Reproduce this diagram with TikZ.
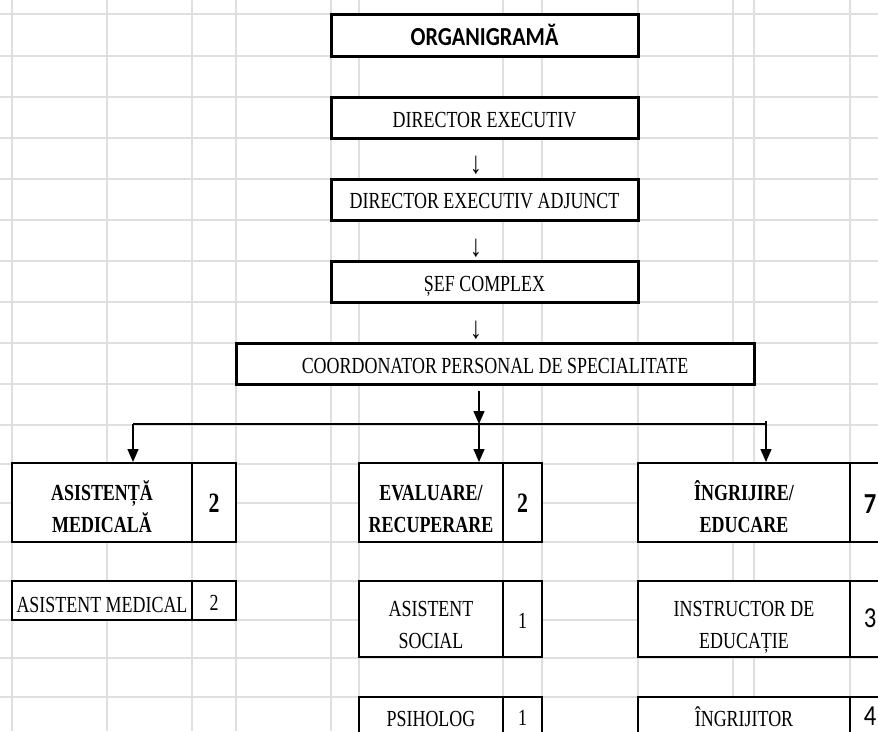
\documentclass[tikz,border=0pt]{standalone}
\usepackage{fontspec}
\newfontfamily\tnr{Liberation Serif}[FakeStretch=0.78]
\newfontfamily\calfnt{Carlito}[FakeStretch=0.85]
\usetikzlibrary{arrows.meta}
\tikzset{
  gridline/.style={line width=1.5pt, draw=gray!25},
  bigbox/.style={draw, rectangle, line width=3pt, fill=white, inner sep=0pt},
  cellbox/.style={draw, rectangle, line width=2pt, fill=white, inner sep=0pt},
  txt/.style={inner sep=0pt, anchor=base, font=\tnr\fontsize{23}{27}\selectfont},
  btxt/.style={inner sep=0pt, anchor=base, font=\tnr\bfseries\fontsize{23}{27}\selectfont},
  arrtxt/.style={inner sep=0pt, anchor=base, font=\tnr\fontsize{31}{33}\selectfont},
  bnum/.style={inner sep=0pt, anchor=base, font=\tnr\bfseries\fontsize{28}{30}\selectfont},
  num/.style={inner sep=0pt, anchor=base, font=\tnr\fontsize{23}{26}\selectfont},
  cnum/.style={inner sep=0pt, anchor=base, font=\calfnt\fontsize{29}{31}\selectfont},
  cbnum/.style={inner sep=0pt, anchor=base, font=\calfnt\bfseries\fontsize{29}{31}\selectfont},
  title/.style={inner sep=0pt, anchor=base, font=\calfnt\bfseries\fontsize{26}{30}\selectfont},
  conn/.style={line width=1.5pt, draw=black},
  arr/.style={line width=1.5pt, draw=black, -{Triangle[length=13pt,width=11pt]}},
}
\begin{document}
\begin{tikzpicture}[x=1pt,y=-1pt]
\useasboundingbox (0,0) rectangle (878,731);
\clip (0,0) rectangle (878,731);
\fill[white] (0,0) rectangle (878,731);
% spreadsheet grid
\foreach \gx in {12,107,192,236,331,359,503,542,638,733,754,850}
  \draw[gridline] (\gx,0) -- (\gx,731);
\foreach \gy in {14,56,97,138,179,220,261,302,343,384,425,464,503,542,581,620,658,697}
  \draw[gridline] (0,\gy) -- (878,\gy);

% top chain
\node[bigbox, minimum width=307pt, minimum height=42pt] (org) at (484.5,35) {};
\node[title] (orgT) at (484.5,45) {ORGANIGRAMĂ};
\node[bigbox, minimum width=307pt, minimum height=41pt] (dir) at (484.5,117.5) {};
\node[txt] (dirT) at (484.5,127) {DIRECTOR EXECUTIV};
\node[arrtxt] (ar1) at (476,173) {↓};
\node[bigbox, minimum width=307pt, minimum height=41pt] (adj) at (484.5,199.5) {};
\node[txt] (adjT) at (484.5,208) {DIRECTOR EXECUTIV ADJUNCT};
\node[arrtxt] (ar2) at (476,256) {↓};
\node[bigbox, minimum width=307pt, minimum height=41pt] (sef) at (484.5,281.5) {};
\node[txt] (sefT) at (484.5,291) {ȘEF COMPLEX};
\node[arrtxt] (ar3) at (476,338) {↓};
\node[bigbox, minimum width=518pt, minimum height=41pt] (coord) at (495,363.5) {};
\node[txt] (coordT) at (495,373) {COORDONATOR PERSONAL DE SPECIALITATE};

% departments
\node[cellbox, minimum width=180pt, minimum height=79pt] (am) at (102,502.5) {};
\node[cellbox, minimum width=44pt, minimum height=79pt] (amn) at (214,502.5) {};
\node[btxt] (amT1) at (102,500) {ASISTENȚĂ};
\node[btxt] (amT2) at (102,532) {MEDICALĂ};
\node[bnum] (amN) at (214,512) {2};

\node[cellbox, minimum width=144pt, minimum height=79pt] (ev) at (431,502.5) {};
\node[cellbox, minimum width=39pt, minimum height=79pt] (evn) at (522.5,502.5) {};
\node[btxt] (evT1) at (431,500) {EVALUARE/};
\node[btxt] (evT2) at (431,532) {RECUPERARE};
\node[bnum] (evN) at (522.5,512) {2};

\node[cellbox, minimum width=212pt, minimum height=79pt] (ie) at (744,502.5) {};
\node[cellbox, minimum width=40pt, minimum height=79pt] (ien) at (870,502.5) {};
\node[btxt] (ieT1) at (744,500) {ÎNGRIJIRE/};
\node[btxt] (ieT2) at (744,532) {EDUCARE};
\node[cbnum] (ieN) at (870,513) {7};

% staff
\node[cellbox, minimum width=180pt, minimum height=39pt] (asm) at (102,600.5) {};
\node[cellbox, minimum width=44pt, minimum height=39pt] (asmn) at (214,600.5) {};
\node[txt] (asmT) at (102,612) {ASISTENT MEDICAL};
\node[num] (asmN) at (214,610) {2};

\node[cellbox, minimum width=144pt, minimum height=76pt] (as) at (431,619) {};
\node[cellbox, minimum width=39pt, minimum height=76pt] (asn) at (522.5,619) {};
\node[txt] (asT1) at (431,616) {ASISTENT};
\node[txt] (asT2) at (431,648) {SOCIAL};
\node[num] (asN) at (522.5,628) {1};

\node[cellbox, minimum width=212pt, minimum height=76pt] (ins) at (744,619) {};
\node[cellbox, minimum width=40pt, minimum height=76pt] (insn) at (870,619) {};
\node[txt] (insT1) at (744,616) {INSTRUCTOR DE};
\node[txt] (insT2) at (744,648) {EDUCAȚIE};
\node[cnum] (insN) at (870,627) {3};

\node[cellbox, minimum width=144pt, minimum height=46pt] (psi) at (431,720) {};
\node[cellbox, minimum width=39pt, minimum height=46pt] (psin) at (522.5,720) {};
\node[txt] (psiT) at (431,726) {PSIHOLOG};
\node[num] (psiN) at (522.5,725) {1};

\node[cellbox, minimum width=212pt, minimum height=46pt] (ing) at (744,720) {};
\node[cellbox, minimum width=40pt, minimum height=46pt] (ingn) at (870,720) {};
\node[txt] (ingT) at (744,726) {ÎNGRIJITOR};
\node[cnum] (ingN) at (870,725) {4};

% connectors
\coordinate (J) at (479,424);
\coordinate (L) at (133,424);
\coordinate (R) at (766,424);
\draw[arr] ([yshift=-5pt]coord.south -| J) -- (J);
\draw[arr] (J) -- (ev.north -| J);
\draw[conn] (L) -- (R);
\draw[arr] (L) -- (am.north -| L);
\draw[arr] ([yshift=3pt]R) -- (ie.north -| R);
\end{tikzpicture}
\end{document}
